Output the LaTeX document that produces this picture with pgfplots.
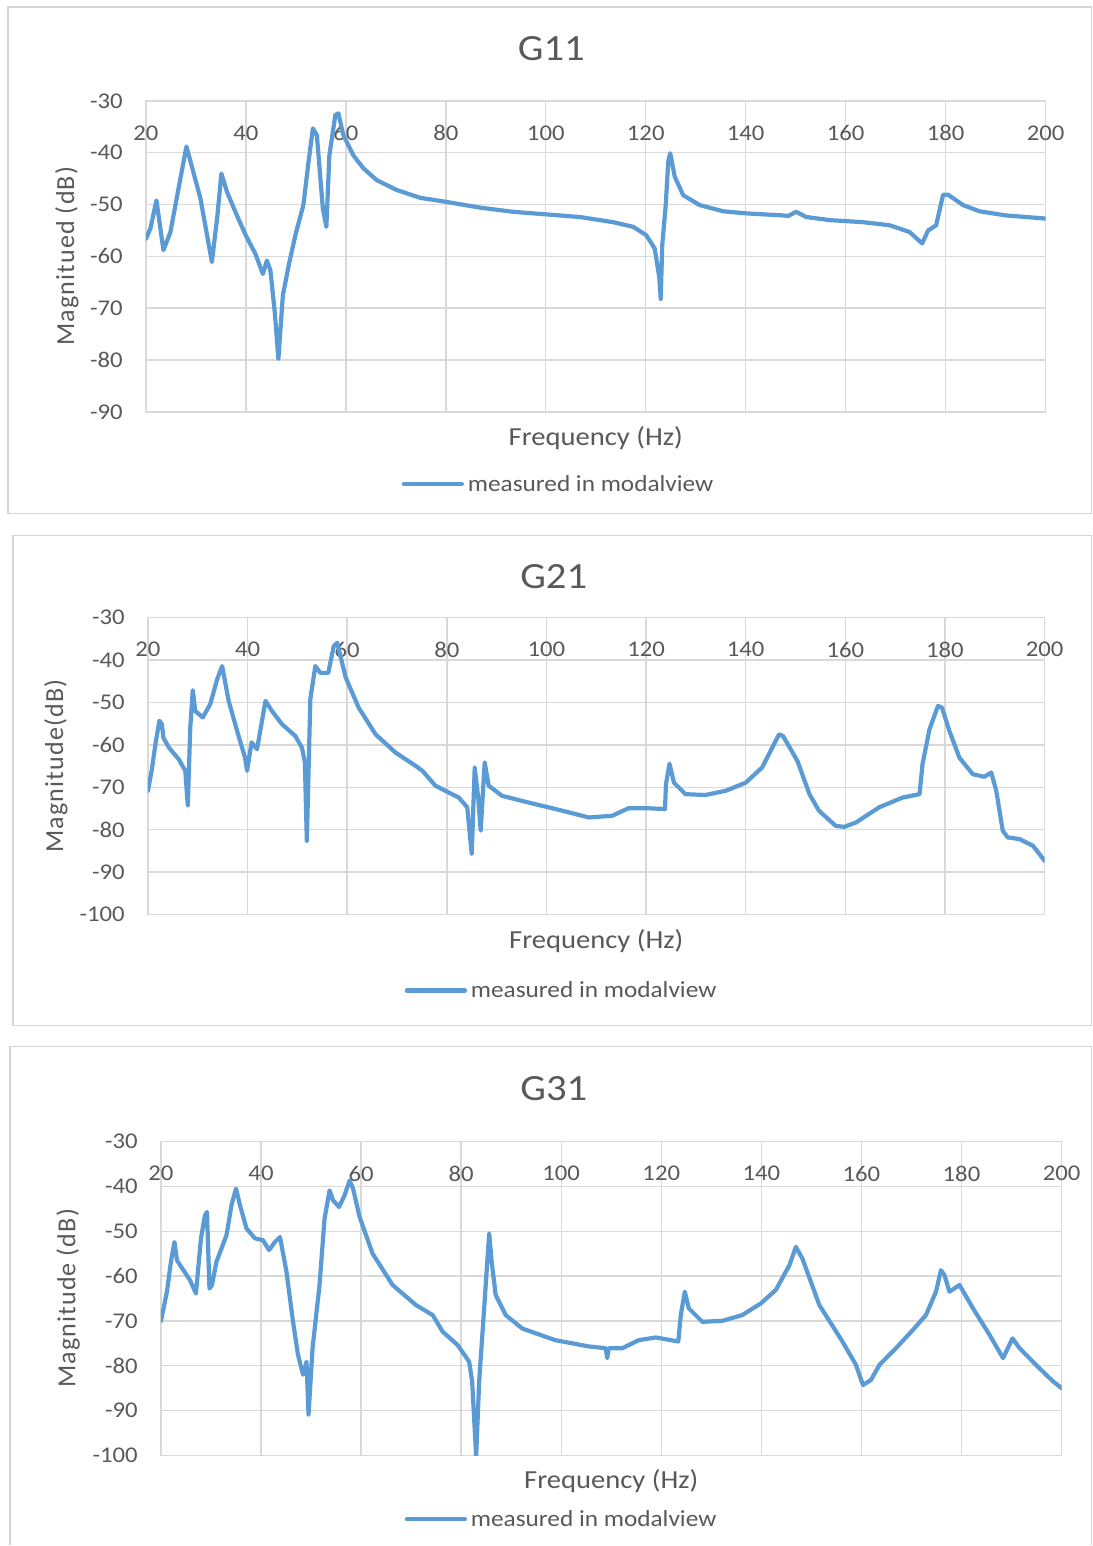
\documentclass[border=0pt]{standalone}
\usepackage{pgfplots}
\pgfplotsset{compat=1.18}
\usepackage{fontspec}
\setmainfont{Carlito}[FakeStretch=1.1]
\newfontfamily\ylabfont{Carlito}[LetterSpace=4.5]
\definecolor{lineblue}{HTML}{5B9BD5}
\definecolor{gridgray}{HTML}{D9D9D9}
\definecolor{bordergray}{HTML}{D4D4D4}
\definecolor{textgray}{HTML}{595959}
\pgfplotsset{
  panel/.style={
    scale only axis,
    xmin=20, xmax=200,
    xtick={20,40,...,200},
    xticklabels={20,40,60,80,100,120,140,160,180,200},
    xticklabel pos=upper,
    major tick length=0pt,
    grid=major,
    major grid style={draw=gridgray, line width=1.4bp},
    axis line style={draw=gridgray, line width=1.4bp},
    tick label style={text=textgray, font=\fontsize{22.5bp}{27bp}\selectfont},
    xticklabel style={anchor=center, yshift=-32bp, inner sep=0pt},
    yticklabel style={anchor=east, inner sep=0pt, xshift=-23bp},
    xlabel={Frequency (Hz)},
    xlabel style={at={(axis description cs:0.5,0)}, anchor=center, yshift=-26bp, font=\fontsize{26bp}{30bp}\selectfont, text=textgray},
    ylabel style={anchor=center, font=\ylabfont\fontsize{26bp}{30bp}\selectfont, text=textgray},
    title style={anchor=center, font=\fontsize{37bp}{44bp}\selectfont, text=textgray},
    legend image code/.code={\draw[#1] (0bp,0bp) -- (58bp,0bp); \path[draw=none, fill=none] (0bp,-4bp) rectangle (64bp,4bp);},
    legend style={draw=none, fill=none, anchor=west, inner sep=0pt, outer sep=0pt,
      nodes={inner sep=0pt, outer sep=0pt, text=textgray},
      font=\fontsize{23bp}{27bp}\selectfont},
  },
  frf/.style={lineblue, line width=4.2bp, line join=round, line cap=round},
}
\begin{document}
\begin{tikzpicture}
\path[fill=white] (0bp,0bp) rectangle (1093bp,1546bp);
\draw[bordergray, line width=1.3bp] (8bp,1032bp) rectangle (1092bp,1539bp);
\draw[bordergray, line width=1.3bp] (13bp,520bp) rectangle (1092bp,1010bp);
\draw[bordergray, line width=1.3bp] (10bp,0bp) -- (10bp,499bp) -- (1092bp,499bp) -- (1092bp,0bp);

% ---------------- G11 ----------------
\begin{axis}[panel, at={(146bp,1134bp)}, anchor=south west, width=900bp, height=311bp,
  ymin=-90, ymax=-30, ytick={-90,-80,-70,-60,-50,-40,-30},
  yticklabels={-90,-80,-70,-60,-50,-40,-30},
  title={G11}, title style={at={(axis description cs:0.4506,1.148)}},
  ylabel={Magnitued (dB)}, ylabel style={at={(axis description cs:-0.0878,0.5)}},
  legend style={at={(axis description cs:0.2844,-0.2315)}}]
\addplot[frf] coordinates {
(20,-56.6) (20.9,-54.6) (22.1,-49.2) (23.5,-58.8) (24.9,-55.3) (26.5,-47) (28.1,-38.8)
(29.2,-42.7) (30.9,-48.8) (33.2,-61.1) (34.3,-52.1) (35.1,-44.0) (36.2,-47.5) (38.2,-52.1)
(40,-56) (41.9,-59.5) (43.4,-63.4) (44.2,-60.8) (44.9,-62.7) (45.8,-71) (46.5,-79.8)
(47.4,-67.5) (48.7,-61.1) (50,-55.5) (51.5,-50.1) (52.5,-42) (53.4,-35.3) (54.2,-36.6)
(55.4,-50.8) (56.1,-54.3) (56.7,-40.5) (57.9,-32.7) (58.5,-32.4) (59.5,-36.6) (61.5,-40.5)
(63.5,-43.0) (66.2,-45.3) (70.2,-47.2) (74.9,-48.7) (80.2,-49.5) (86.9,-50.6) (93.5,-51.4)
(100.2,-51.9) (106.8,-52.4) (113.5,-53.4) (117.5,-54.3) (120.1,-55.9) (121.8,-58.5)
(122.7,-64.0) (123.0,-68.2) (123.3,-57.9) (124.0,-50.1) (124.5,-41.7) (124.9,-40.1)
(125.8,-44.6) (127.5,-48.2) (130.8,-50.1) (135.5,-51.3) (140.1,-51.7) (147.5,-52.1)
(148.5,-52.2) (150.1,-51.4) (152.1,-52.4) (156.8,-53.0) (163.5,-53.4) (168.8,-54.0)
(172.8,-55.3) (175.3,-57.5) (176.5,-55.0) (178.1,-54.0) (179.5,-48.1) (180.5,-48.1)
(183.5,-50.1) (186.8,-51.3) (192.1,-52.1) (200,-52.7)
};
\addlegendentry{measured in modalview}
\end{axis}

% ---------------- G21 ----------------
\begin{axis}[panel, at={(148bp,631bp)}, anchor=south west, width=897bp, height=297bp,
  ymin=-100, ymax=-30, ytick={-100,-90,-80,-70,-60,-50,-40,-30},
  yticklabels={-100,-90,-80,-70,-60,-50,-40,-30},
  title={G21}, title style={at={(axis description cs:0.4526,1.1178)}},
  ylabel={Magnitude(dB)}, ylabel style={at={(axis description cs:-0.1026,0.5)}},
  legend style={at={(axis description cs:0.2865,-0.2559)}}]
\addplot[frf] coordinates {
(20,-70.8) (20.8,-65.7) (21.5,-59.8) (22.3,-54.3) (22.8,-55.1) (23.1,-58.3) (24.2,-60.6)
(26.2,-63.4) (27.5,-66.1) (28.0,-74.3) (28.5,-55.9) (29.0,-47.1) (29.5,-52.0) (31.0,-53.5)
(32.5,-50.4) (33.9,-44.5) (34.9,-41.4) (36.2,-49.6) (38.2,-57.9) (39.5,-63) (39.9,-66.1)
(40.8,-59.4) (41.9,-61.0) (43.6,-49.6) (44.9,-52.0) (46.9,-55.1) (49.6,-57.9) (50.9,-60.6)
(51.5,-64) (51.9,-82.6) (52.6,-49.2) (53.6,-41.4) (54.6,-43.0) (56.2,-43.0) (57.3,-36.7)
(58.0,-35.9) (59.7,-44.1) (62.3,-51.2) (65.7,-57.5) (69.7,-61.8) (73.7,-64.9) (75.1,-66.1)
(77.7,-69.6) (82.4,-72.4) (84.1,-74.7) (85.0,-85.7) (85.6,-65.3) (86.3,-72.4) (86.8,-80.2)
(87.6,-64.1) (88.4,-69.6) (91.1,-72.0) (96.5,-73.6) (103.2,-75.5) (108.5,-77.1)
(113.2,-76.7) (116.5,-74.9) (119.9,-74.9) (123.8,-75.1) (124.0,-69.2) (124.7,-64.4)
(125.6,-68.9) (127.9,-71.6) (131.9,-71.8) (136.0,-70.8) (140.0,-68.9) (143.3,-65.3)
(146.7,-57.5) (147.5,-57.9) (150.4,-63.8) (152.8,-71.6) (154.7,-75.5) (158.1,-79.1)
(159.8,-79.3) (162.1,-78.3) (166.8,-74.7) (171.5,-72.4) (174.9,-71.6) (175.5,-64.5)
(176.9,-56.3) (178.6,-50.8) (179.4,-51.2) (180.9,-56.7) (182.9,-63.0) (185.6,-66.9)
(187.9,-67.5) (189.3,-66.5) (190.3,-70.8) (191.6,-80.2) (192.6,-81.8) (195.0,-82.2)
(197.7,-83.8) (200,-87.3)
};
\addlegendentry{measured in modalview}
\end{axis}

% ---------------- G31 ----------------
\begin{axis}[panel, at={(161bp,90bp)}, anchor=south west, width=901bp, height=314bp,
  ymin=-100, ymax=-30, ytick={-100,-90,-80,-70,-60,-50,-40,-30},
  yticklabels={-100,-90,-80,-70,-60,-50,-40,-30},
  title={G31}, title style={at={(axis description cs:0.4362,1.1497)}},
  ylabel={Magnitude (dB)}, ylabel style={at={(axis description cs:-0.1032,0.5)}},
  legend style={at={(axis description cs:0.2708,-0.2038)}}]
\addplot[frf] coordinates {
(20,-70.0) (21.2,-63.5) (22.0,-56.8) (22.7,-52.4) (23.2,-56.5) (24.5,-58.7) (25.8,-60.9)
(27.0,-63.9) (28.0,-51.6) (28.8,-46.5) (29.2,-45.7) (29.7,-62.8) (30.2,-62.0) (31.1,-56.8)
(33.1,-50.9) (34.1,-44.2) (35.0,-40.5) (35.8,-44.2) (37.1,-49.4) (38.8,-51.6) (40.4,-52.0)
(41.6,-54.2) (42.8,-52.4) (43.8,-51.3) (45.1,-59.1) (46.4,-70.2) (47.4,-77.6) (48.4,-82.0)
(49.1,-79.1) (49.5,-90.9) (50.3,-76.1) (51.7,-62.0) (52.7,-47.2) (53.7,-40.9) (54.4,-43.1)
(55.6,-44.6) (56.7,-42.0) (57.7,-38.7) (58.4,-40.5) (59.7,-46.8) (62.3,-55.0) (66.3,-62.0)
(71.0,-66.5) (74.3,-68.7) (76.3,-72.4) (79.3,-75.4) (81.6,-79.1) (82.2,-83.5) (83.0,-100.2)
(83.6,-83.5) (84.6,-67.2) (85.6,-50.5) (86.1,-56.8) (86.9,-64.2) (88.9,-68.7) (92.2,-71.7)
(98.8,-74.3) (105.5,-75.7) (108.9,-76.1) (109.2,-78.3) (109.5,-76.1) (112.2,-76.1)
(115.5,-74.3) (118.9,-73.7) (123.4,-74.6) (123.9,-68.7) (124.7,-63.5) (125.5,-67.2)
(128.2,-70.2) (132.2,-70.0) (136.2,-68.7) (139.9,-66.1) (142.9,-63.1) (145.6,-57.6)
(146.9,-53.5) (148.2,-56.1) (151.6,-66.5) (156.2,-74.6) (158.9,-79.8) (160.3,-84.3)
(161.9,-83.2) (163.6,-79.8) (166.9,-76.1) (170.3,-72.0) (172.9,-68.7) (174.9,-63.5)
(175.9,-58.7) (176.6,-59.8) (177.6,-63.5) (179.6,-62.0) (182.3,-67.2) (185.6,-73.1)
(188.3,-78.3) (190.2,-73.9) (191.6,-76.1) (195.6,-80.6) (198.3,-83.5) (200,-85.0)
};
\addlegendentry{measured in modalview}
\end{axis}
\end{tikzpicture}
\end{document}
